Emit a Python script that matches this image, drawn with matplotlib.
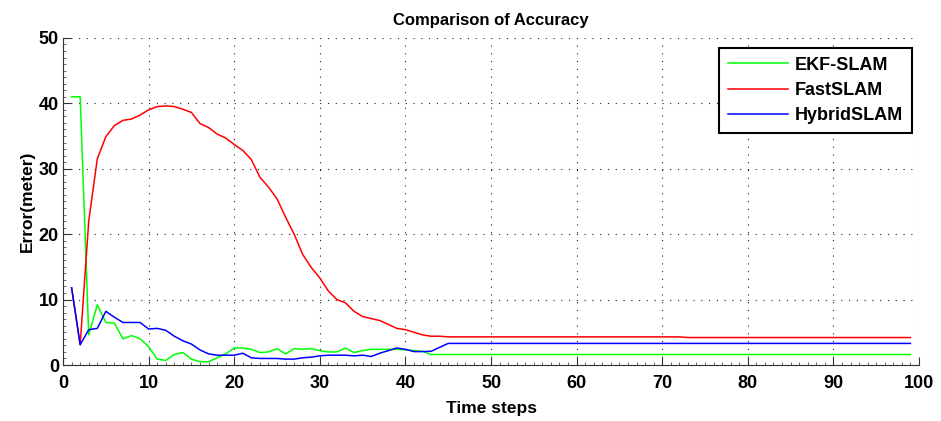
import matplotlib
matplotlib.use("Agg")
import matplotlib.pyplot as plt
from matplotlib.ticker import MultipleLocator

# Time steps and error values (meters)
steps = list(range(1, 100))

ekf_slam = [41.0, 41.0, 4.6, 9.2, 6.5, 6.4, 4.0, 4.5, 4.0, 2.8,
            0.9, 0.7, 1.6, 1.9, 0.9, 0.5, 0.5, 1.1, 1.7, 2.6,
            2.6, 2.4, 1.9, 2.0, 2.5, 1.7, 2.5, 2.4, 2.5, 2.2,
            2.0, 2.0, 2.6, 1.9, 2.2, 2.4, 2.4, 2.4, 2.4, 2.3,
            2.2, 2.1] + [1.6] * 57

fast_slam = [11.8, 3.1, 22.0, 31.5, 34.9, 36.6, 37.4, 37.6, 38.2, 39.0,
             39.5, 39.6, 39.5, 39.1, 38.6, 36.9, 36.3, 35.3, 34.7, 33.7,
             32.8, 31.4, 28.7, 27.2, 25.4, 22.6, 20.0, 16.9, 14.9, 13.3,
             11.3, 10.0, 9.5, 8.2, 7.4, 7.1, 6.8, 6.2, 5.6, 5.4,
             5.0, 4.6, 4.4, 4.4] + [4.3] * 28 + [4.2] * 27

hybrid_slam = [11.8, 3.1, 5.4, 5.6, 8.2, 7.3, 6.5, 6.5, 6.5, 5.5,
               5.6, 5.3, 4.4, 3.7, 3.2, 2.3, 1.7, 1.5, 1.5, 1.5,
               1.8, 1.1, 1.0, 1.0, 1.0, 0.9, 0.9, 1.1, 1.2, 1.4,
               1.5, 1.5, 1.5, 1.4, 1.5, 1.3, 1.8, 2.2, 2.6, 2.4,
               2.05, 2.05, 2.1, 2.7] + [3.3] * 55

plt.rcParams["font.family"] = ["Liberation Sans", "DejaVu Sans"]
plt.rcParams["font.weight"] = "bold"

fig = plt.figure(figsize=(9.41, 4.21), dpi=100)
ax = fig.add_axes([0.067, 0.133, 0.9096, 0.777])

ax.plot(steps, ekf_slam, color="#00ff00", lw=1.1, label="EKF-SLAM")
ax.plot(steps, fast_slam, color="#ff0000", lw=1.1, label="FastSLAM")
ax.plot(steps, hybrid_slam, color="#0000ff", lw=1.1, label="HybridSLAM")

ax.set_xlim(0, 100)
ax.set_ylim(0, 50)
ax.xaxis.set_major_locator(MultipleLocator(10))
ax.yaxis.set_major_locator(MultipleLocator(10))
ax.xaxis.set_minor_locator(MultipleLocator(1))
ax.yaxis.set_minor_locator(MultipleLocator(1))

# MATLAB-like axes: inward ticks, dotted grid, no top/right box
ax.tick_params(which="major", direction="in", length=6, width=0.8,
               labelsize=13, color="#333333")
ax.tick_params(which="minor", direction="in", length=2.5, width=0.6,
               color="#555555")
ax.tick_params(axis="x", which="major", pad=7)
ax.tick_params(axis="y", which="major", pad=3)
for lbl in ax.get_xticklabels() + ax.get_yticklabels():
    lbl.set_fontweight("bold")

ax.spines["top"].set_visible(False)
ax.spines["right"].set_visible(False)
ax.spines["left"].set_color("#333333")
ax.spines["bottom"].set_color("#333333")
ax.grid(True, which="major", color="#222222", linestyle=(0, (1, 6)), lw=0.8)

ax.set_title("Comparison of Accuracy", fontsize=12, fontweight="bold", pad=9)
ax.set_xlabel("Time steps", fontsize=12.5, fontweight="bold", labelpad=7)
ax.set_ylabel("Error(meter)", fontsize=12.5, fontweight="bold", labelpad=3)

leg = ax.legend(loc="upper right", bbox_to_anchor=(0.992, 0.97),
                fontsize=13, handlelength=3.3, handletextpad=0.4,
                labelspacing=0.45, borderpad=0.5, fancybox=False,
                framealpha=1, edgecolor="black", borderaxespad=0)
leg.get_frame().set_linewidth(1.5)
for t in leg.get_texts():
    t.set_fontweight("bold")

plt.savefig("out.png", dpi=100)
